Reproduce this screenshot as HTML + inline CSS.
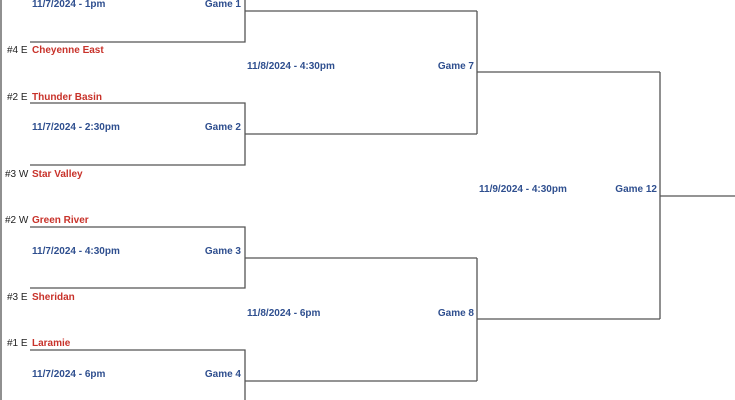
<!DOCTYPE html>
<html><head><style>
body{margin:0;width:735px;height:400px;overflow:hidden;background:#fff;font-family:"Liberation Sans",Arial,sans-serif;}
svg{position:absolute;left:0;top:0}
text{font-size:10px;font-weight:bold}
.b{fill:#2f4f8f}.r{fill:#c8322a}.s{fill:#222;font-weight:normal}
</style></head><body>
<svg width="735" height="400">
<g stroke="#555" stroke-width="1.3" fill="none">
<line x1="1" y1="0" x2="1" y2="400"/>
<polyline points="30,42 245,42 245,0"/>
<line x1="245" y1="11" x2="477" y2="11"/>
<polyline points="30,103 245,103 245,165 30,165"/>
<line x1="245" y1="134" x2="477" y2="134"/>
<line x1="477" y1="11" x2="477" y2="134"/>
<line x1="477" y1="72" x2="660" y2="72"/>
<polyline points="30,227 245,227 245,288 30,288"/>
<line x1="245" y1="258" x2="477" y2="258"/>
<polyline points="30,350 245,350 245,400"/>
<line x1="245" y1="381" x2="477" y2="381"/>
<line x1="477" y1="258" x2="477" y2="381"/>
<line x1="477" y1="319" x2="660" y2="319"/>
<line x1="660" y1="72" x2="660" y2="319"/>
<line x1="660" y1="196" x2="735" y2="196"/>
</g>
<text class="b" x="32" y="7">11/7/2024 - 1pm</text>
<text class="b" x="241" y="7" text-anchor="end">Game 1</text>
<text class="s" x="7" y="53">#4 E</text><text class="r" x="32" y="53">Cheyenne East</text>
<text class="b" x="247" y="69">11/8/2024 - 4:30pm</text>
<text class="b" x="474" y="69" text-anchor="end">Game 7</text>
<text class="s" x="7" y="100">#2 E</text><text class="r" x="32" y="100">Thunder Basin</text>
<text class="b" x="32" y="130">11/7/2024 - 2:30pm</text>
<text class="b" x="241" y="130" text-anchor="end">Game 2</text>
<text class="s" x="5" y="177">#3 W</text><text class="r" x="32" y="177">Star Valley</text>
<text class="b" x="479" y="192">11/9/2024 - 4:30pm</text>
<text class="b" x="657" y="192" text-anchor="end">Game 12</text>
<text class="s" x="5" y="223">#2 W</text><text class="r" x="32" y="223">Green River</text>
<text class="b" x="32" y="254">11/7/2024 - 4:30pm</text>
<text class="b" x="241" y="254" text-anchor="end">Game 3</text>
<text class="s" x="7" y="300">#3 E</text><text class="r" x="32" y="300">Sheridan</text>
<text class="b" x="247" y="316">11/8/2024 - 6pm</text>
<text class="b" x="474" y="316" text-anchor="end">Game 8</text>
<text class="s" x="7" y="346">#1 E</text><text class="r" x="32" y="346">Laramie</text>
<text class="b" x="32" y="377">11/7/2024 - 6pm</text>
<text class="b" x="241" y="377" text-anchor="end">Game 4</text>
</svg>
</body></html>
